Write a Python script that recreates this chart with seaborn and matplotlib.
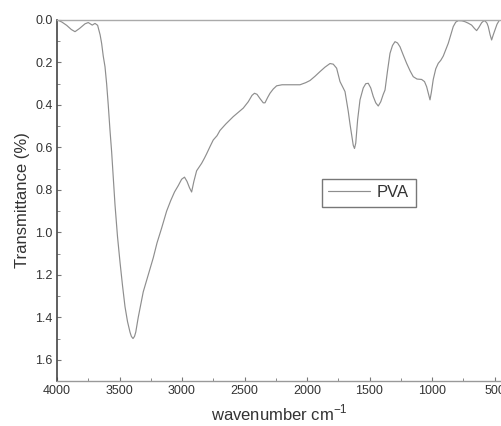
import matplotlib
matplotlib.use("Agg")
import matplotlib.pyplot as plt
import seaborn as sns
import pandas as pd
from matplotlib.ticker import MultipleLocator

wavenumber = [3995, 3960, 3923, 3885, 3856, 3820, 3776, 3750, 3718, 3696, 3675, 3655,
              3643, 3630, 3616, 3603, 3590, 3576, 3563, 3550, 3536, 3516, 3496, 3476,
              3456, 3436, 3416, 3405, 3392, 3380, 3370, 3350, 3330, 3310, 3270, 3230, 3200,
              3163, 3123, 3090, 3060, 3030, 3003, 2980, 2960, 2940, 2923, 2905, 2883,
              2860, 2843, 2820, 2803, 2775, 2750, 2720, 2696, 2650, 2590, 2550, 2510,
              2470, 2440, 2420, 2400, 2376, 2350, 2336, 2315, 2296, 2270, 2243, 2200,
              2150, 2100, 2056, 2010, 1976, 1936, 1896, 1856, 1816, 1790, 1763, 1736,
              1710, 1696, 1670, 1656, 1643, 1630, 1620, 1610, 1595, 1576, 1550, 1530,
              1510, 1490, 1470, 1450, 1430, 1410, 1390, 1376, 1356, 1336, 1316, 1296,
              1276, 1256, 1230, 1203, 1175, 1150, 1120, 1083, 1060, 1043, 1025, 1016,
              1005, 990, 970, 950, 930, 910, 890, 870, 850, 830, 810, 790, 760, 736,
              710, 683, 660, 643, 625, 603, 588, 576, 560, 550, 535, 523, 510, 496,
              480, 460]
transmittance = [0.0, 0.01, 0.025, 0.045, 0.055, 0.04, 0.018, 0.012, 0.024, 0.016, 0.025, 0.07,
                 0.11, 0.17, 0.22, 0.30, 0.40, 0.52, 0.62, 0.74, 0.87, 1.02, 1.14, 1.25,
                 1.35, 1.42, 1.47, 1.49, 1.50, 1.49, 1.47, 1.40, 1.34, 1.28, 1.20, 1.12, 1.05,
                 0.98, 0.90, 0.85, 0.81, 0.78, 0.75, 0.74, 0.76, 0.79, 0.81, 0.76, 0.71,
                 0.69, 0.675, 0.65, 0.63, 0.595, 0.565, 0.545, 0.52, 0.49, 0.455, 0.435, 0.415,
                 0.385, 0.355, 0.345, 0.35, 0.37, 0.39, 0.39, 0.365, 0.345, 0.325, 0.31, 0.305,
                 0.305, 0.305, 0.305, 0.295, 0.285, 0.265, 0.243, 0.222, 0.205, 0.208, 0.227, 0.29,
                 0.32, 0.337, 0.43, 0.49, 0.54, 0.59, 0.605, 0.58, 0.47, 0.376, 0.32, 0.30,
                 0.298, 0.32, 0.36, 0.39, 0.405, 0.385, 0.35, 0.33, 0.24, 0.157, 0.12, 0.102,
                 0.108, 0.126, 0.165, 0.204, 0.24, 0.267, 0.278, 0.28, 0.29, 0.314, 0.355, 0.376,
                 0.34, 0.28, 0.23, 0.204, 0.19, 0.17, 0.14, 0.11, 0.07, 0.031, 0.01, 0.003, 0.004, 0.008,
                 0.015, 0.024, 0.04, 0.05, 0.035, 0.013, 0.005, 0.004, 0.015, 0.031, 0.07, 0.094, 0.07, 0.047,
                 0.02, 0.0]
series_name = "PVA"
x_ticks = [4000, 3500, 3000, 2500, 2000, 1500, 1000, 500]
y_ticks = [0.0, 0.2, 0.4, 0.6, 0.8, 1.0, 1.2, 1.4, 1.6]

df = pd.DataFrame({"wavenumber": wavenumber, "T": transmittance})

sns.set_style("white")
plt.rcParams["font.family"] = ["Liberation Sans", "DejaVu Sans"]

fig = plt.figure(figsize=(5.02, 4.26), dpi=100)
ax = fig.add_axes([57 / 502, 1 - 381 / 426, 1 - 57 / 502, (381 - 20) / 426])

sns.lineplot(data=df, x="wavenumber", y="T", ax=ax, color="#8e8e8e", lw=0.85,
             label=series_name, sort=False)

ax.set_xlim(4000, 440)
ax.set_ylim(1.7, 0.0)
ax.set_xticks(x_ticks)
ax.set_yticks(y_ticks)
ax.set_yticklabels([f"{v:.1f}" for v in y_ticks])
ax.xaxis.set_minor_locator(MultipleLocator(250))
ax.yaxis.set_minor_locator(MultipleLocator(0.1))
ax.tick_params(axis="both", which="major", direction="in", length=3, width=0.8,
               color="#777777", labelsize=9, labelcolor="#333333", pad=3)
ax.tick_params(axis="both", which="minor", direction="in", length=2, width=0.6,
               color="#777777")
ax.tick_params(axis="x", bottom=True, which="both")
ax.tick_params(axis="y", left=True, which="both")

ax.spines["right"].set_visible(False)
ax.spines["left"].set_color("#444444")
ax.spines["left"].set_linewidth(1.2)
ax.spines["bottom"].set_color("#999999")
ax.spines["bottom"].set_linewidth(1.0)
ax.spines["top"].set_color("#aaaaaa")
ax.spines["top"].set_linewidth(1.0)

ax.set_xlabel(r"wavenumber cm$^{\mathregular{-1}}$", fontsize=12, color="#333333", labelpad=4)
ax.set_ylabel("Transmittance (%)", fontsize=12, color="#333333", labelpad=4)

leg = ax.legend(loc="lower left", bbox_to_anchor=(0.595, 0.482), fontsize=12,
                frameon=True, fancybox=False, handlelength=2.5, handletextpad=0.4,
                borderpad=0.4, borderaxespad=0)
leg.get_frame().set_edgecolor("#555555")
leg.get_frame().set_linewidth(1.0)
for t in leg.get_texts():
    t.set_color("#333333")

fig.savefig("out.png", dpi=100)
